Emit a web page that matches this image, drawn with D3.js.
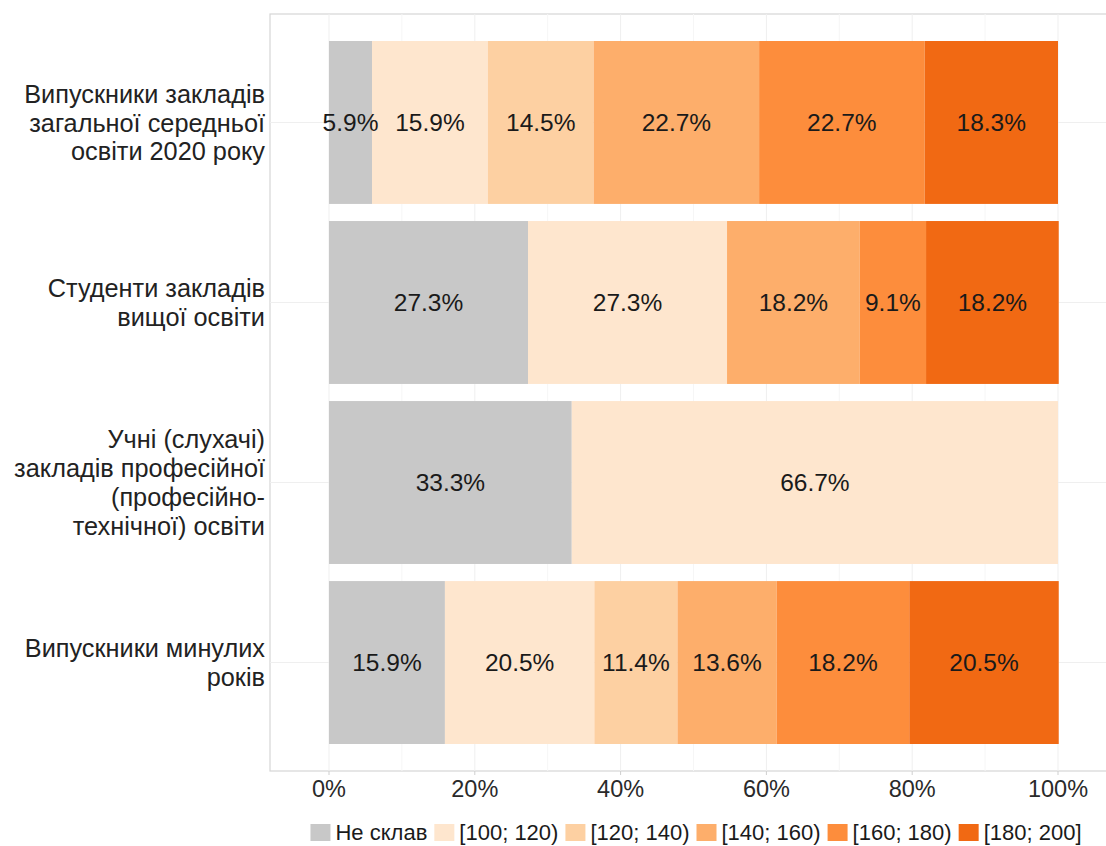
<!DOCTYPE html>
<html><head><meta charset="utf-8">
<script src="https://cdn.jsdelivr.net/npm/d3@7"></script>
<style>body{margin:0;background:#fff;} svg{display:block;font-family:"Liberation Sans",Arial,sans-serif;}</style>
</head><body>
<svg id="c" width="1106" height="846"></svg>
<script>
const categories = [
  ["Випускники закладів","загальної середньої","освіти 2020 року"],
  ["Студенти закладів","вищої освіти"],
  ["Учні (слухачі)","закладів професійної","(професійно-","технічної) освіти"],
  ["Випускники минулих","років"]
];
const groups = ["Не склав","[100; 120)","[120; 140)","[140; 160)","[160; 180)","[180; 200]"];
const colors = ["#C8C8C8","#FEE6CE","#FDD0A2","#FDAE6B","#FD8D3C","#F16913"];
const values = [
  [5.9, 15.9, 14.5, 22.7, 22.7, 18.3],
  [27.3, 27.3, 0, 18.2, 9.1, 18.2],
  [33.3, 66.7, 0, 0, 0, 0],
  [15.9, 20.5, 11.4, 13.6, 18.2, 20.5]
];
const xTicks = [0, 20, 40, 60, 80, 100];

const svg = d3.select("#c");
const panel = {left:270, right:1112, top:14, bottom:771};
const x = d3.scaleLinear().domain([0,100]).range([329,1058]);
const y = d3.scaleBand().domain(d3.range(categories.length)).range([panel.top, panel.bottom]).paddingInner(0.095).paddingOuter(0.15);

// panel background + grid
svg.append("rect").attr("x",panel.left).attr("y",panel.top).attr("width",panel.right-panel.left).attr("height",panel.bottom-panel.top)
  .attr("fill","#fff").attr("stroke","#d6d6d6").attr("stroke-width",1.2);
const minor = [10,30,50,70,90];
svg.append("g").selectAll("line").data(minor).join("line")
  .attr("x1",d=>x(d)).attr("x2",d=>x(d)).attr("y1",panel.top).attr("y2",panel.bottom)
  .attr("stroke","#f6f6f6").attr("stroke-width",1);
svg.append("g").selectAll("line").data(xTicks).join("line")
  .attr("x1",d=>x(d)).attr("x2",d=>x(d)).attr("y1",panel.top).attr("y2",panel.bottom)
  .attr("stroke","#efefef").attr("stroke-width",1);
svg.append("g").selectAll("line").data(d3.range(categories.length)).join("line")
  .attr("x1",panel.left).attr("x2",panel.right).attr("y1",d=>y(d)+y.bandwidth()/2).attr("y2",d=>y(d)+y.bandwidth()/2)
  .attr("stroke","#efefef").attr("stroke-width",1);

// bars
const rows = values.map((vals,i)=>{
  let acc=0;
  return vals.map((v,j)=>{const s={row:i,g:j,x0:acc,x1:acc+v,v}; acc+=v; return s;});
});
const segs = rows.flat().filter(d=>d.v>0);
svg.append("g").selectAll("rect").data(segs).join("rect")
  .attr("x",d=>x(d.x0)).attr("width",d=>x(d.x1)-x(d.x0))
  .attr("y",d=>y(d.row)).attr("height",y.bandwidth())
  .attr("fill",d=>colors[d.g]);
svg.append("g").selectAll("text").data(segs).join("text")
  .attr("x",d=>(x(d.x0)+x(d.x1))/2).attr("y",d=>y(d.row)+y.bandwidth()/2)
  .attr("dy","0.36em").attr("text-anchor","middle")
  .attr("font-size",24.5).attr("fill","#1a1a1a")
  .text(d=>d3.format(".1f")(d.v)+"%");

// y labels
const lh = 28.8;
categories.forEach((lines,i)=>{
  const cy = y(i)+y.bandwidth()/2;
  const t = svg.append("text").attr("text-anchor","end").attr("font-size",25.3).attr("fill","#222");
  lines.forEach((l,k)=>{
    t.append("tspan").attr("x",265).attr("y",cy+(k-(lines.length-1)/2)*lh).attr("dy","0.36em").text(l);
  });
});

// x axis ticks
svg.append("g").selectAll("line").data(xTicks).join("line")
  .attr("x1",d=>x(d)).attr("x2",d=>x(d)).attr("y1",panel.bottom).attr("y2",panel.bottom+4)
  .attr("stroke","#cfcfcf");
svg.append("g").selectAll("text").data(xTicks).join("text")
  .attr("x",d=>x(d)).attr("y",797).attr("text-anchor","middle")
  .attr("font-size",23.5).attr("fill","#2a2a2a").text(d=>d+"%");

// legend
const lg = svg.append("g");
let lx = 0;
groups.forEach((g,i)=>{
  const it = lg.append("g").attr("transform",`translate(${lx},0)`);
  it.append("rect").attr("x",0).attr("y",-8).attr("width",20).attr("height",17).attr("fill",colors[i]);
  const tx = it.append("text").attr("x",25).attr("y",0).attr("dy","0.36em").attr("font-size",22).attr("fill","#1a1a1a").text(g);
  const w = tx.node().getComputedTextLength();
  lx += 25 + w + 7;
});
const total = lx - 7;
lg.attr("transform",`translate(${696-total/2},832)`);
</script>
</body></html>
